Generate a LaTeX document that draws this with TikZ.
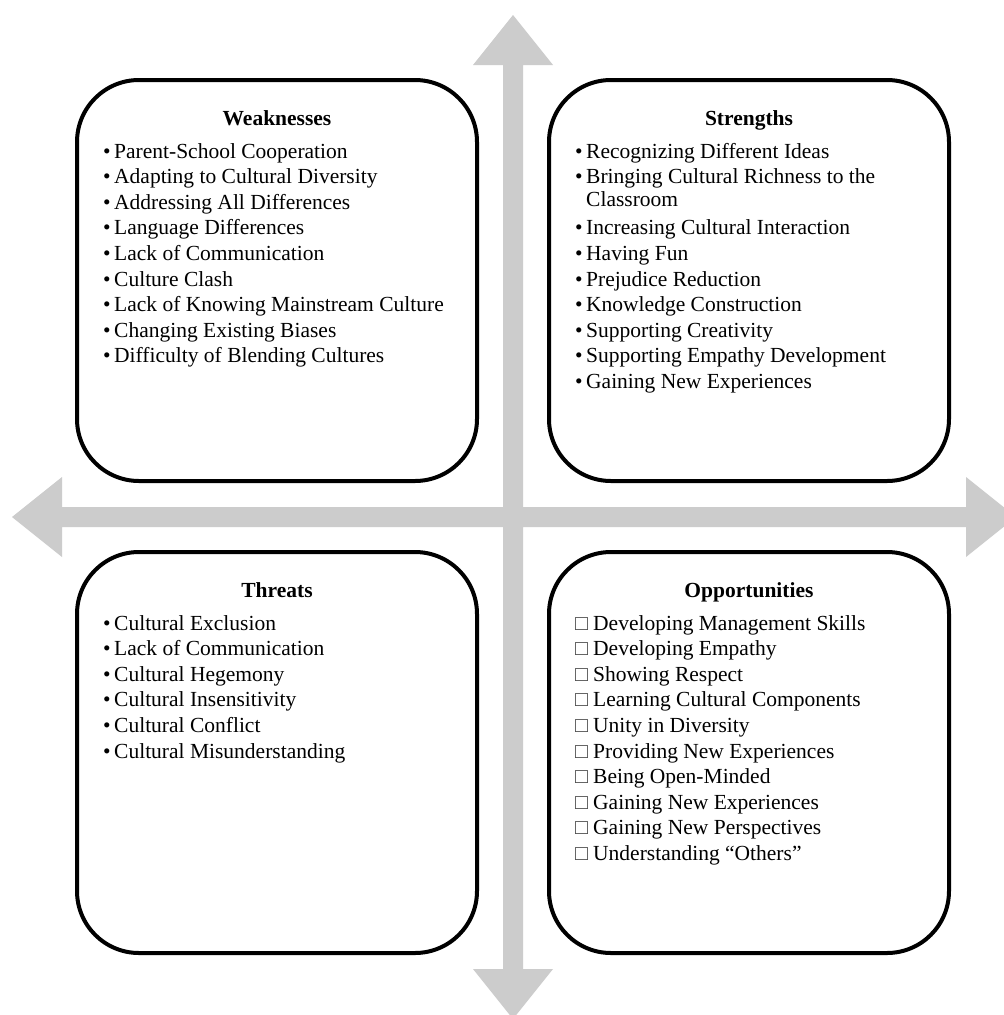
\documentclass[tikz,border=0pt]{standalone}
\usepackage{fontspec}
\setmainfont{Liberation Serif}
\usetikzlibrary{calc}

\definecolor{axisgray}{RGB}{204,204,204}
\newcommand{\bul}{\makebox[11pt][l]{\textbullet}}
\newcommand{\sqbul}{\makebox[18pt][l]{\color{black!75}□}}

\begin{document}
\begin{tikzpicture}[x=1pt, y=-1pt,
    quad/.style={draw, line width=4pt, rounded corners=62pt, minimum width=400pt, minimum height=401pt, inner sep=0pt},
    head/.style={anchor=base, inner sep=0pt, font=\fontsize{21.5}{25.6}\selectfont\bfseries},
    entry/.style={anchor=base west, inner sep=0pt, font=\fontsize{21.5}{25.6}\selectfont}]

    % Page
    \fill[white] (0,0) rectangle (1004,1015);
    \useasboundingbox (0,0) rectangle (1004,1015);

    % Axes
    \fill[axisgray] (513,15) -- (553,65) -- (523,65) -- (523,507) -- (966,507) -- (966,477)
        -- (1016,517) -- (966,557) -- (966,527) -- (523,527) -- (523,969) -- (553,969)
        -- (513,1019) -- (473,969) -- (503,969) -- (503,527) -- (62,527) -- (62,557)
        -- (12,517) -- (62,477) -- (62,507) -- (503,507) -- (503,65) -- (473,65) -- cycle;

    % Quadrants
    \node[quad] (weak) at (277,280.5) {};
    \node[quad] (strong) at (749,280.5) {};
    \node[quad] (threat) at (277,752.5) {};
    \node[quad] (chance) at (749,752.5) {};

    % Titles
    \node[head] (weakT) at ($(weak.north)+(0,47)$) {Weaknesses};
    \node[head] (strongT) at ($(strong.north)+(0,47)$) {Strengths};
    \node[head] (threatT) at ($(threat.north)+(0,47)$) {Threats};
    \node[head] (chanceT) at ($(chance.north)+(0,47)$) {Opportunities};

    % Lists
    \foreach \txt [count=\i from 0] in {Parent-School Cooperation, Adapting to Cultural Diversity,
        Addressing All Differences, Language Differences, Lack of Communication, Culture Clash,
        Lack of Knowing Mainstream Culture, Changing Existing Biases, Difficulty of Blending Cultures}
        \node[entry] (weak\i) at ($(weak.north west)+(28,80+25.6*\i)$) {\bul\txt};

    \foreach \txt [count=\i from 0] in {Recognizing Different Ideas, Bringing Cultural Richness to the,
        Increasing Cultural Interaction, Having Fun, Prejudice Reduction, Knowledge Construction,
        Supporting Creativity, Supporting Empathy Development, Gaining New Experiences}
        \node[entry] (strong\i) at ($(strong.north west)+(28,{80+25.6*\i+25.6*(\i>1)})$) {\bul\txt};
    \node[entry] (strongW) at ($(strong1.base west)+(11,22.5)$) {Classroom};

    \foreach \txt [count=\i from 0] in {Cultural Exclusion, Lack of Communication, Cultural Hegemony,
        Cultural Insensitivity, Cultural Conflict, Cultural Misunderstanding}
        \node[entry] (threat\i) at ($(threat.north west)+(28,80+25.6*\i)$) {\bul\txt};

    \foreach \txt [count=\i from 0] in {Developing Management Skills, Developing Empathy, Showing Respect,
        Learning Cultural Components, Unity in Diversity, Providing New Experiences, Being Open-Minded,
        Gaining New Experiences, Gaining New Perspectives, Understanding “Others”}
        \node[entry] (chance\i) at ($(chance.north west)+(28,80+25.6*\i)$) {\sqbul\txt};
\end{tikzpicture}
\end{document}
